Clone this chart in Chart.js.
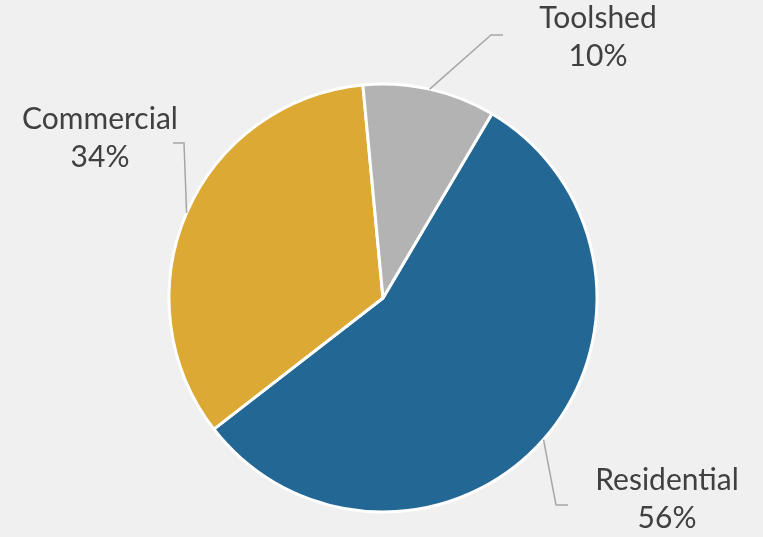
<!DOCTYPE html>
<html>
<head>
<meta charset="utf-8">
<script src="https://cdn.jsdelivr.net/npm/chart.js@4.4.1/dist/chart.umd.min.js"></script>
<style>
  html, body { margin: 0; padding: 0; background: #F0F0F0; }
  #wrap { width: 763px; height: 537px; }
</style>
</head>
<body>
<div id="wrap"><canvas id="c" width="763" height="537"></canvas></div>
<script>
const categories = ["Residential", "Commercial", "Toolshed"];
const values = [56, 34, 10];
const colors = ["#236795", "#DBA934", "#B3B3B3"];

// label layout (per category): text centre x, first baseline y, elbow and end of leader line
const labelLayout = [
  { x: 667, y: 490, elbow: [556, 505], end: [568, 505] },
  { x: 100, y: 129, elbow: [184, 143], end: [173, 143] },
  { x: 598, y: 28,  elbow: [491, 35],  end: [503, 35] }
];

const labelPlugin = {
  id: 'pieLabels',
  afterDatasetsDraw(chart) {
    const ctx = chart.ctx;
    const meta = chart.getDatasetMeta(0);
    const total = values.reduce((a, b) => a + b, 0);
    meta.data.forEach((arc, i) => {
      const p = arc.getProps(['x', 'y', 'startAngle', 'endAngle', 'outerRadius'], true);
      const mid = (p.startAngle + p.endAngle) / 2;
      const sx = p.x + Math.cos(mid) * p.outerRadius;
      const sy = p.y + Math.sin(mid) * p.outerRadius;
      const L = labelLayout[i];
      ctx.save();
      ctx.strokeStyle = '#A6A6A6';
      ctx.lineWidth = 1.5;
      ctx.beginPath();
      ctx.moveTo(sx, sy);
      ctx.lineTo(L.elbow[0], L.elbow[1]);
      ctx.lineTo(L.end[0], L.end[1]);
      ctx.stroke();
      ctx.fillStyle = '#404040';
      ctx.font = '30px Lato';
      ctx.textAlign = 'center';
      ctx.textBaseline = 'alphabetic';
      ctx.fillText(categories[i], L.x, L.y);
      ctx.fillText(Math.round(values[i] / total * 100) + '%', L.x, L.y + 38);
      ctx.restore();
    });
  }
};

new Chart(document.getElementById('c'), {
  type: 'pie',
  data: {
    labels: categories,
    datasets: [{
      data: values,
      backgroundColor: colors,
      borderColor: '#FFFFFF',
      borderWidth: 3
    }]
  },
  options: {
    responsive: false,
    animation: false,
    rotation: 30.6,
    layout: { padding: { left: 3, right: 0, top: 82.5, bottom: 23.5 } },
    plugins: {
      legend: { display: false },
      tooltip: { enabled: false }
    }
  },
  plugins: [labelPlugin]
});
</script>
</body>
</html>
